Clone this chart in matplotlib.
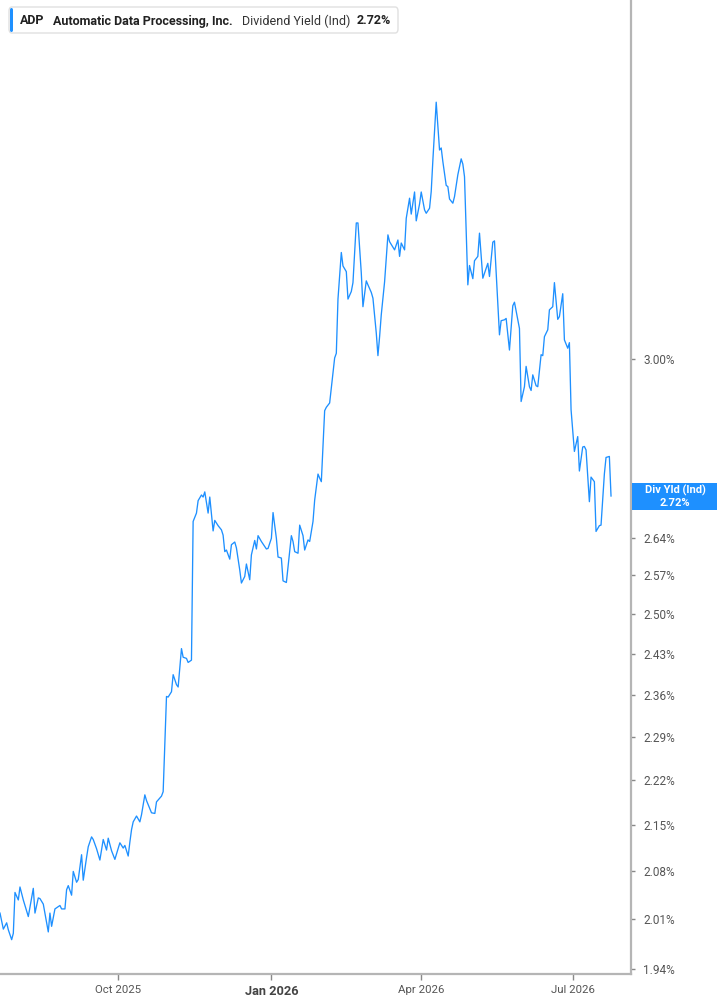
import pandas as pd
import matplotlib
matplotlib.use("Agg")
import matplotlib.pyplot as plt
from matplotlib.patches import FancyBboxPatch, Rectangle
from matplotlib.ticker import FixedLocator, NullLocator

plt.rcParams['font.family'] = ['Roboto', 'DejaVu Sans']

# days since 2025-07-22 and the indicated dividend yield (%)
start = pd.Timestamp("2025-07-22")
days = [0, 2, 4, 5, 7, 8, 9, 11, 12, 14, 17, 20, 21, 23, 24, 26, 29, 30, 31, 33,
        36, 37, 39, 40, 41, 43, 44, 46, 47, 49, 50, 52, 53, 55, 56, 58, 60, 62, 64, 65,
        67, 69, 72, 74, 75, 77, 78,
        79, 80, 82, 84, 85, 87, 88, 91, 93, 94, 97, 98, 100, 101, 103, 104, 106, 107, 109, 110,
        112, 113, 115, 116, 118, 119, 121, 122, 123, 125, 126, 128, 129, 131, 133, 134, 135, 136, 138, 139,
        141, 142, 144, 145, 147, 148, 150, 151, 153,
        154, 155, 157, 160, 161, 163, 164, 166, 167, 169, 170, 172, 173, 175, 176, 177, 179, 180, 182, 183,
        185, 186, 188, 189, 191, 192, 193, 195, 196, 198, 199, 201, 202, 203, 205, 206, 208, 209, 211, 212,
        214, 215, 217, 218, 220, 221, 223, 224, 226, 227, 228,
        229, 231, 233, 234, 237, 239, 240, 241, 243, 244, 246, 247, 249, 250, 252, 253, 255, 256, 258, 259,
        260, 262, 264, 265, 266, 268, 269, 270, 272, 273, 275, 277, 278, 279, 281, 282, 284, 285, 287, 288,
        290, 293, 294, 296, 297, 298, 300, 301,
        303, 304, 306, 308, 309, 312, 313, 315, 316, 318, 319, 320, 322, 323, 325, 326, 327, 329, 330, 332,
        333, 335, 336, 338, 339, 341, 342, 343, 345, 347, 348, 350, 351, 352, 354, 355, 357, 358, 360, 361,
        363, 364, 366, 367]
yld = [2.019, 1.996, 2.005, 1.995, 1.981, 1.990, 2.049, 2.038, 2.057, 2.038,
       2.014, 2.055, 2.019, 2.041, 2.040, 2.032, 1.992, 2.019, 2.000, 2.025,
       2.030, 2.025, 2.025, 2.053, 2.059, 2.045, 2.080, 2.064, 2.068, 2.105,
       2.067, 2.101, 2.117, 2.132, 2.128, 2.114, 2.097, 2.128, 2.112, 2.130,
       2.111, 2.098, 2.123, 2.115, 2.119, 2.103, 2.124,
       2.143, 2.155, 2.164, 2.155, 2.166, 2.197, 2.188, 2.169, 2.168, 2.186,
       2.195, 2.202, 2.357, 2.356, 2.365, 2.394, 2.377, 2.373, 2.439, 2.424,
       2.422, 2.415, 2.419, 2.671, 2.687, 2.711, 2.722, 2.718, 2.728, 2.687,
       2.718, 2.653, 2.673, 2.663, 2.655, 2.645, 2.614, 2.617, 2.600, 2.627,
       2.632, 2.621, 2.580, 2.556, 2.568, 2.591, 2.562, 2.608, 2.635,
       2.619, 2.644, 2.633, 2.619, 2.620, 2.639, 2.688, 2.639, 2.604, 2.602,
       2.560, 2.557, 2.586, 2.644, 2.633, 2.614, 2.611, 2.664, 2.644, 2.617,
       2.636, 2.633, 2.671, 2.712, 2.763, 2.755, 2.748, 2.891, 2.898, 2.907,
       2.938, 3.002, 3.012, 3.131, 3.237, 3.206, 3.193, 3.131, 3.148, 3.168,
       3.306, 3.306, 3.190, 3.114, 3.172, 3.163, 3.146, 3.133, 3.056, 3.007,
       3.048,
       3.096, 3.170, 3.278, 3.262, 3.243, 3.266, 3.228, 3.259, 3.243, 3.317,
       3.365, 3.327, 3.380, 3.311, 3.351, 3.380, 3.337, 3.329, 3.341, 3.381,
       3.458, 3.604, 3.483, 3.488, 3.454, 3.396, 3.393, 3.363, 3.353, 3.369,
       3.422, 3.461, 3.448, 3.417, 3.163, 3.207, 3.177, 3.218, 3.228, 3.282,
       3.178, 3.212, 3.182, 3.261, 3.264, 3.193, 3.052, 3.083,
       3.085, 3.088, 3.019, 3.116, 3.124, 3.066, 2.910, 2.941, 2.984, 2.941,
       2.933, 2.966, 2.943, 2.941, 3.009, 3.007, 3.048, 3.063, 3.107, 3.114,
       3.168, 3.086, 3.092, 3.143, 3.041, 3.023, 3.035, 2.893, 2.808, 2.838,
       2.769, 2.817, 2.818, 2.811, 2.709, 2.757, 2.748, 2.652, 2.663, 2.664,
       2.763, 2.796, 2.798, 2.720]

yticks = [1.94, 2.01, 2.08, 2.15, 2.22, 2.29, 2.36, 2.43, 2.50, 2.57, 2.64, 2.71, 3.00]
ylabels = ["1.94%", "2.01%", "2.08%", "2.15%", "2.22%", "2.29%", "2.36%", "2.43%",
           "2.50%", "2.57%", "2.64%", "", "3.00%"]
xticks = ["2025-10-01", "2026-01-01", "2026-04-01", "2026-07-01"]
xlabels = ["Oct 2025", "Jan 2026", "Apr 2026", "Jul 2026"]

last = yld[-1]
blue = "#1e90ff"
grey = "#b5b5b5"

W, H = 717, 1005
fig = plt.figure(figsize=(W / 100, H / 100), dpi=100)
fig.patch.set_facecolor("white")

def fx(x):
    return x / W

def fy(y):
    return 1 - y / H

ax = fig.add_axes([0, fy(974), fx(631), fy(0) - fy(974)])
dates = start + pd.to_timedelta(days, unit="D")
ax.plot(dates, yld, color=blue, lw=0.95)

ax.set_yscale("log")
ax.set_ylim(1.933, 3.877)
ax.set_xlim(start, start + pd.Timedelta(days=379))

ax.yaxis.set_major_locator(FixedLocator(yticks))
ax.yaxis.set_minor_locator(NullLocator())
ax.set_yticklabels(ylabels)
ax.yaxis.tick_right()
ax.tick_params(axis="y", which="major", length=3, width=1, color="#888888",
               labelsize=8.5, labelcolor="#555555", pad=6)

ax.set_xticks(pd.to_datetime(xticks))
ax.set_xticklabels(xlabels)
ax.tick_params(axis="x", length=4, width=1, color="#888888",
               labelsize=8.2, labelcolor="#555555", pad=4)
for lab in ax.get_xticklabels():
    if lab.get_text() == "Jan 2026":
        lab.set_fontweight("bold")
        lab.set_fontsize(9.2)
        lab.set_color("#444444")

for s in ["left", "top"]:
    ax.spines[s].set_visible(False)
for s in ["right", "bottom"]:
    ax.spines[s].set_color(grey)
    ax.spines[s].set_linewidth(1.6)

# header box
fig.patches.append(FancyBboxPatch((fx(9), fy(33)), fx(398) - fx(9), fy(7) - fy(33),
                                  boxstyle="round,pad=0,rounding_size=0.004",
                                  transform=fig.transFigure, facecolor="white",
                                  edgecolor="#e0e0e0", lw=1.0, zorder=5))
fig.patches.append(FancyBboxPatch((fx(10), fy(32)), fx(13) - fx(10), fy(8) - fy(32),
                                  boxstyle="round,pad=0,rounding_size=0.002",
                                  transform=fig.transFigure, facecolor=blue,
                                  edgecolor="none", zorder=6))
ty = fy(21)
hs = 9.0
fig.text(fx(20), ty, "ADP", fontsize=hs, fontweight="bold", color="#222222", va="center", zorder=7)
fig.text(fx(53), ty, "Automatic Data Processing, Inc.", fontsize=hs, fontweight="bold",
         color="#222222", va="center", zorder=7)
fig.text(fx(242), ty, "Dividend Yield (Ind)", fontsize=hs, color="#333333", va="center", zorder=7)
fig.text(fx(357), ty, f"{last:.2f}%", fontsize=hs, fontweight="bold", color="#222222",
         va="center", zorder=7)

# last value tag on the right axis
fig.patches.append(Rectangle((fx(632), fy(510)), fx(717) - fx(632), fy(483) - fy(510),
                             transform=fig.transFigure, facecolor=blue, edgecolor="none", zorder=5))
fig.text(fx(675), fy(490.5), "Div Yld (Ind)", fontsize=8.0, fontweight="bold", color="white",
         ha="center", va="center", zorder=7)
fig.text(fx(675), fy(503), f"{last:.2f}%", fontsize=8.0, fontweight="bold", color="white",
         ha="center", va="center", zorder=7)

fig.savefig("out.png", dpi=100, facecolor="white")
